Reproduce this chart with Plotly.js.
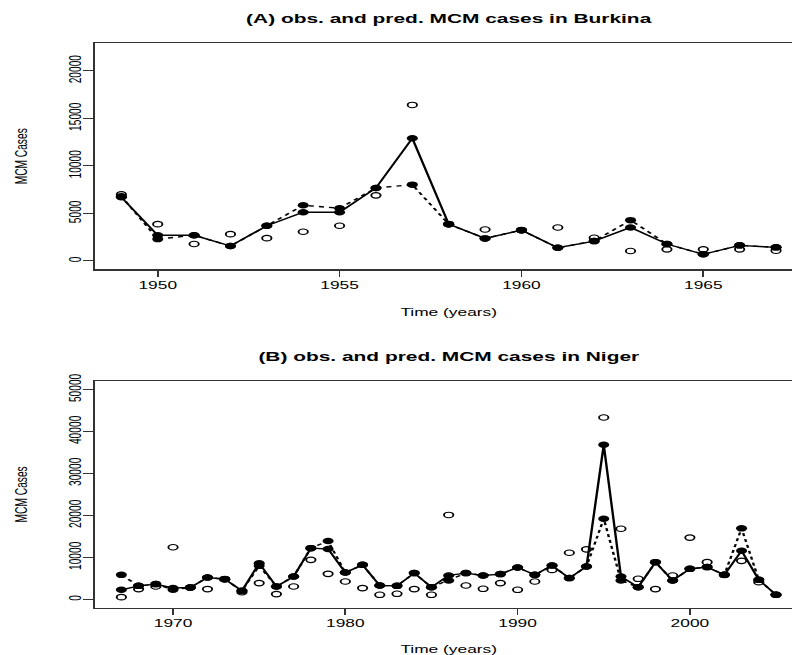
<!DOCTYPE html>
<html>
<head>
<meta charset="utf-8">
<script src="https://cdn.plot.ly/plotly-3.0.1.min.js"></script>
<style>
html,body{margin:0;padding:0;overflow:hidden;background:#fff;}
#wrap{width:480px;height:655px;transform:scaleX(1.6996);transform-origin:0 0;}
</style>
</head>
<body>
<div id="wrap"><div id="chart" style="width:480px;height:655px"></div></div>
<script>
// Panel A: Burkina
const yearsA = [1949,1950,1951,1952,1953,1954,1955,1956,1957,1958,1959,1960,1961,1962,1963,1964,1965,1966,1967];
const obsA   = [7000,3870,1780,2820,2400,3070,3700,6900,16400,3870,3310,3240,3520,2440,1050,1220,1220,1220,1080];
const predSolidA  = [6700,2700,2700,1570,3700,5120,5120,7670,12900,3870,2370,3240,1390,2090,3520,1780,700,1640,1430];
const predDashedA = [6800,2300,2700,1570,3700,5860,5540,7670,8020,3870,2370,3240,1390,2090,4290,1780,700,1640,1430];
const xTicksA = [1950,1955,1960,1965];
const yTicksA = [0,5000,10000,15000,20000];

// Panel B: Niger
const yearsB = [1967,1968,1969,1970,1971,1972,1973,1974,1975,1976,1977,1978,1979,1980,1981,1982,1983,1984,1985,1986,1987,1988,1989,1990,1991,1992,1993,1994,1995,1996,1997,1998,1999,2000,2001,2002,2003,2004,2005];
const obsB = [520,2430,3050,12400,2800,2430,4800,1710,3860,1240,3050,9400,6070,4240,2670,1070,1310,2430,1070,20100,3290,2500,3860,2260,4240,7000,11100,11900,43300,16800,4880,2430,5670,14700,8850,5830,9160,4090,1070];
const predSolidB = [2260,3210,3620,2700,2800,5190,4800,2020,8600,3050,5430,12190,12000,6380,8210,3290,3210,6240,2900,5690,6240,5690,6000,7570,5830,8040,5050,7830,36800,5430,2900,8850,4480,7260,7670,5830,11550,4640,1070];
const predDashedB = [5830,3210,3620,2300,2800,5190,4800,2020,7970,3050,5430,12190,13900,6380,8210,3290,3210,6240,2900,4470,6240,5690,6000,7570,5830,8040,5050,7830,19200,4480,2900,8850,4480,7260,7670,5830,16900,4640,1070];
const xTicksB = [1970,1980,1990,2000];
const yTicksB = [0,10000,20000,30000,40000,50000];

const FONT = 'Liberation Sans, Arial, Helvetica, sans-serif';
const lineW = 1.4;

function obsTrace(x, y, xa, ya) {
  return {x: x, y: y, xaxis: xa, yaxis: ya, type: 'scatter', mode: 'markers', name: 'observed',
    marker: {symbol: 'circle-open', size: 5.5, color: '#000', line: {width: 1.1, color: '#000'}},
    showlegend: false, hoverinfo: 'skip'};
}
function predTrace(x, y, xa, ya, dash, name) {
  return {x: x, y: y, xaxis: xa, yaxis: ya, type: 'scatter', mode: 'lines+markers', name: name,
    line: {color: '#000', width: lineW, dash: dash},
    marker: {symbol: 'circle', size: 6.5, color: '#000'},
    showlegend: false, hoverinfo: 'skip'};
}

const data = [
  predTrace(yearsA, predDashedA, 'x', 'y', '3px,3px', 'predicted (dashed)'),
  predTrace(yearsA, predSolidA, 'x', 'y', 'solid', 'predicted (solid)'),
  obsTrace(yearsA, obsA, 'x', 'y'),
  predTrace(yearsB, predDashedB, 'x2', 'y2', '3px,3px', 'predicted (dashed)'),
  predTrace(yearsB, predSolidB, 'x2', 'y2', 'solid', 'predicted (solid)'),
  obsTrace(yearsB, obsB, 'x2', 'y2')
];

const axisBase = {
  showgrid: false, zeroline: false, showline: true, mirror: true,
  linecolor: '#333', linewidth: 1.2,
  ticks: 'outside', ticklen: 6, tickcolor: '#333', tickwidth: 1,
  tickfont: {family: FONT, size: 10.2, color: '#000'}
};

const layout = {
  width: 480, height: 655,
  margin: {l: 56, r: 8, t: 0, b: 0},
  paper_bgcolor: '#fff', plot_bgcolor: '#fff',
  font: {family: FONT, color: '#000'},
  title: {text: '<b>(A) obs. and pred. MCM cases in Burkina</b>', font: {family: FONT, size: 12.3, color: '#000'},
          x: 0.5, xref: 'paper', xanchor: 'center', y: 1 - 19/655, yref: 'container', yanchor: 'middle'},
  xaxis: Object.assign({}, axisBase, {domain: [0, 1], anchor: 'y', range: [1948.28, 1967.72], tickvals: xTicksA,
          tickformat: 'd',
          title: {text: 'Time (years)', font: {family: FONT, size: 10.2, color: '#000'}, standoff: 19}}),
  yaxis: Object.assign({}, axisBase, {domain: [0.5888, 0.9339], anchor: 'x', range: [-880, 22880], tickvals: yTicksA,
          tickangle: -90, tickformat: 'd', ticklabelstandoff: -3,
          title: {text: 'MCM Cases', font: {family: FONT, size: 10.2, color: '#000'}, standoff: 20}}),
  xaxis2: Object.assign({}, axisBase, {domain: [0, 1], anchor: 'y2', range: [1965.48, 2006.52], tickvals: xTicksB,
          tickformat: 'd',
          title: {text: 'Time (years)', font: {family: FONT, size: 10.2, color: '#000'}, standoff: 19}}),
  yaxis2: Object.assign({}, axisBase, {domain: [0.0722, 0.4183], anchor: 'x2', range: [-2000, 52000], tickvals: yTicksB,
          tickangle: -90, tickformat: 'd', ticklabelstandoff: -3,
          title: {text: 'MCM Cases', font: {family: FONT, size: 10.2, color: '#000'}, standoff: 20}}),
  annotations: [{
    text: '<b>(B) obs. and pred. MCM cases in Niger</b>', xref: 'paper', yref: 'paper',
    x: 0.5, y: 1 - 356.7/655, xanchor: 'center', yanchor: 'middle', showarrow: false,
    font: {family: FONT, size: 12.3, color: '#000'}
  }]
};

Plotly.newPlot('chart', data, layout, {displayModeBar: false, responsive: false, staticPlot: true});
</script>
</body>
</html>
